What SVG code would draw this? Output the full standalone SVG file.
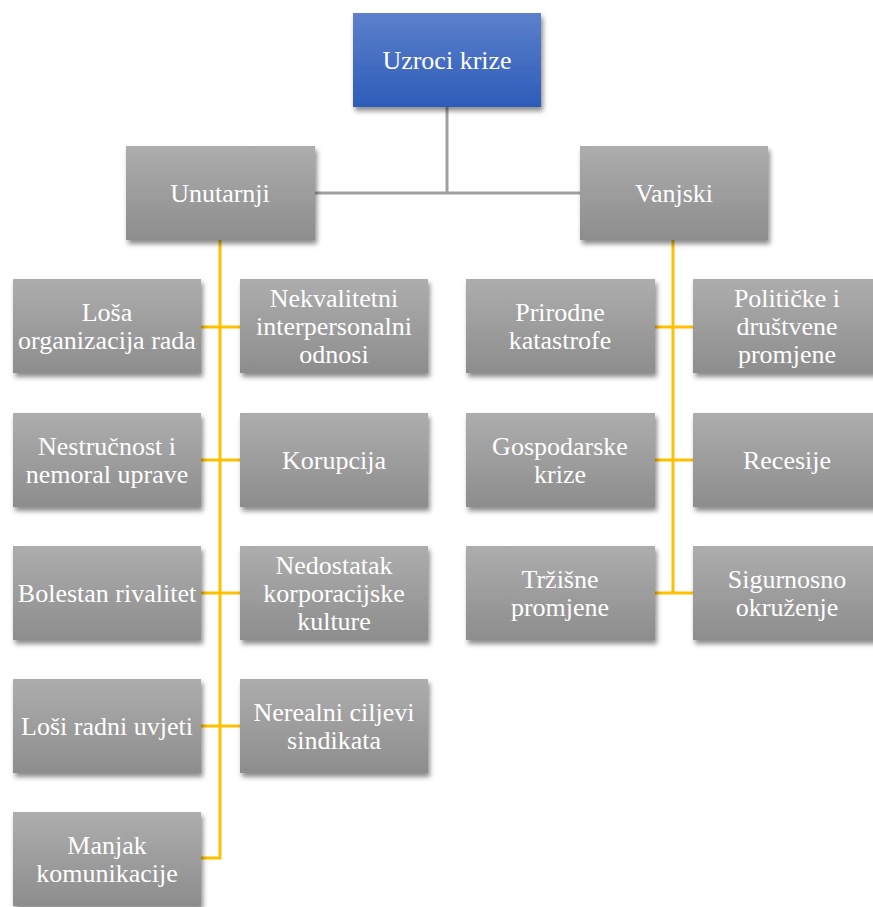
<svg xmlns="http://www.w3.org/2000/svg" width="873" height="907" viewBox="0 0 873 907">
<style>
.box{fill:url(#gray);filter:url(#sh)}
.top{fill:url(#blue);filter:url(#sh)}
text{font-family:'Liberation Serif',serif;font-size:26px;fill:#ffffff;text-anchor:middle}
.g{stroke:#a0a0a0;stroke-width:3;fill:none}
.o{stroke:#ffc000;stroke-width:3;fill:none}
</style>
<defs>
<linearGradient id="gray" x1="0" y1="0" x2="0" y2="1"><stop offset="0" stop-color="#adadad"/><stop offset="1" stop-color="#8d8d8d"/></linearGradient>
<linearGradient id="blue" x1="0" y1="0" x2="0" y2="1"><stop offset="0" stop-color="#5c80cc"/><stop offset="1" stop-color="#2d5cb8"/></linearGradient>
<filter id="sh" x="-10%" y="-10%" width="125%" height="130%"><feDropShadow dx="2" dy="4" stdDeviation="2.5" flood-color="#000" flood-opacity="0.45"/></filter>
</defs>
<rect width="873" height="907" fill="#ffffff"/>
<g id="connectors">
<path class="g" d="M447 107V193M315 193H580"/>
<path class="o" d="M220 240V858H201M201 327H240M201 460H240M201 593H240M201 726H240"/>
<path class="o" d="M673 240V593M655 327H693M655 460H693M655 593H693"/>
</g>
<g font-family="Liberation Serif, serif">
<g id="root"><rect class="top" x="353" y="13" width="188" height="94"/><text x="447" y="69">Uzroci krize</text></g>
<g id="unutarnji"><rect class="box" x="126" y="146" width="189" height="94"/><text x="220" y="202">Unutarnji</text></g>
<g id="vanjski"><rect class="box" x="580" y="146" width="188" height="94"/><text x="674" y="202">Vanjski</text></g>
<g id="losa-org"><rect class="box" x="13" y="279" width="188" height="94"/><text x="107" y="321">Loša</text><text x="107" y="349">organizacija rada</text></g>
<g id="nekvalitetni"><rect class="box" x="240" y="279" width="188" height="94"/><text x="334" y="307">Nekvalitetni</text><text x="334" y="335">interpersonalni</text><text x="334" y="363">odnosi</text></g>
<g id="nestrucnost"><rect class="box" x="13" y="413" width="188" height="94"/><text x="107" y="455">Nestručnost i</text><text x="107" y="483">nemoral uprave</text></g>
<g id="korupcija"><rect class="box" x="240" y="413" width="188" height="94"/><text x="334" y="469">Korupcija</text></g>
<g id="rivalitet"><rect class="box" x="13" y="546" width="188" height="94"/><text x="107" y="602">Bolestan rivalitet</text></g>
<g id="kultura"><rect class="box" x="240" y="546" width="188" height="94"/><text x="334" y="574">Nedostatak</text><text x="334" y="602">korporacijske</text><text x="334" y="630">kulture</text></g>
<g id="uvjeti"><rect class="box" x="13" y="679" width="188" height="94"/><text x="107" y="735">Loši radni uvjeti</text></g>
<g id="sindikati"><rect class="box" x="240" y="679" width="188" height="94"/><text x="334" y="721">Nerealni ciljevi</text><text x="334" y="749">sindikata</text></g>
<g id="komunikacija"><rect class="box" x="13" y="812" width="188" height="94"/><text x="107" y="854">Manjak</text><text x="107" y="882">komunikacije</text></g>
<g id="prirodne"><rect class="box" x="466" y="279" width="189" height="94"/><text x="560" y="321">Prirodne</text><text x="560" y="349">katastrofe</text></g>
<g id="politicke"><rect class="box" x="693" y="279" width="188" height="94"/><text x="787" y="307">Političke i</text><text x="787" y="335">društvene</text><text x="787" y="363">promjene</text></g>
<g id="gospodarske"><rect class="box" x="466" y="413" width="189" height="94"/><text x="560" y="455">Gospodarske</text><text x="560" y="483">krize</text></g>
<g id="recesije"><rect class="box" x="693" y="413" width="188" height="94"/><text x="787" y="469">Recesije</text></g>
<g id="trzisne"><rect class="box" x="466" y="546" width="189" height="94"/><text x="560" y="588">Tržišne</text><text x="560" y="616">promjene</text></g>
<g id="sigurnosno"><rect class="box" x="693" y="546" width="188" height="94"/><text x="787" y="588">Sigurnosno</text><text x="787" y="616">okruženje</text></g>
</g>
</svg>
